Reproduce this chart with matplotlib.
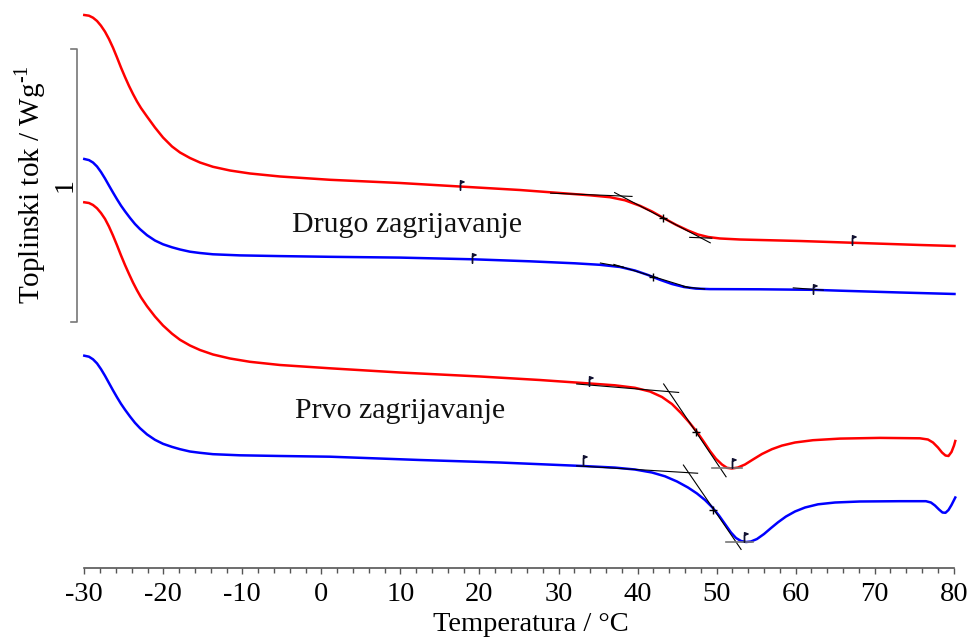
import numpy as np
import matplotlib.pyplot as plt
from matplotlib.path import Path

plt.rcParams['font.family'] = ['Liberation Serif', 'DejaVu Serif']
plt.rcParams['mathtext.fontset'] = 'custom'
plt.rcParams['mathtext.rm'] = 'Liberation Serif'
plt.rcParams['axes.unicode_minus'] = False

# Drugo zagrijavanje - crvena krivulja (W/g, pomaknuto)
t_drugo_c = [-30, -29.41, -28.9, -28.39, -27.89, -27.38, -26.88, -26.37, -25.86, -25.36, -24.85,
             -24.34, -23.84, -23.33, -22.83, -22.07, -21.06, -20.04, -18.9, -17.89, -16.63,
             -15.36, -13.72, -11.56, -9.04, -5.24, 1.09, 9.94, 17.53, 25.12, 30.19, 33.98,
             36.51, 38.41, 40.31, 41.83, 43.35, 44.87, 46.39, 47.65, 48.92, 50.44, 52.96,
             60.55, 68.14, 75.73, 80.1]
q_drugo_c = [2.0245, 2.022, 2.0147, 2.0026, 1.9853, 1.9634, 1.9366, 1.9048, 1.8689, 1.8322, 1.7974,
             1.7645, 1.7352, 1.7077, 1.6839, 1.6527, 1.6125, 1.5758, 1.5429, 1.5209, 1.5007,
             1.4842, 1.4685, 1.4549, 1.444, 1.433, 1.4209, 1.4092, 1.3963, 1.3835, 1.3725, 1.3641,
             1.3571, 1.3458, 1.3256, 1.3048, 1.2799, 1.256, 1.2352, 1.2205, 1.2114, 1.2059, 1.2022,
             1.1967, 1.1894, 1.1821, 1.1784]

# Drugo zagrijavanje - plava krivulja
t_drugo_p = [-30, -29.41, -28.9, -28.39, -27.89, -27.38, -26.88, -26.37, -25.86, -25.36, -24.85,
             -24.21, -23.59, -22.95, -22.07, -21.06, -20.04, -18.9, -17.89, -16.63, -15.36,
             -13.72, -10.3, -5.24, 1.09, 9.94, 19.18, 26.39, 32.08, 35.25, 37.78, 39.67, 41.32,
             42.84, 44.35, 45.87, 47.39, 49.16, 55.49, 62.19, 65.61, 73.2, 80.1]
q_drugo_p = [1.4971, 1.493, 1.4842, 1.4696, 1.4495, 1.4256, 1.4, 1.3744, 1.3495, 1.3264, 1.3055,
             1.281, 1.259, 1.24, 1.218, 1.1985, 1.1846, 1.1736, 1.1656, 1.1575, 1.1527, 1.148,
             1.144, 1.1414, 1.1388, 1.1359, 1.1297, 1.1223, 1.115, 1.1095, 1.1015, 1.0886, 1.0722,
             1.0546, 1.0392, 1.0282, 1.0223, 1.0205, 1.0198, 1.0179, 1.0147, 1.0081, 1.0026]

# Prvo zagrijavanje - crvena krivulja
t_prvo_c = [-30, -29.41, -28.9, -28.39, -27.89, -27.38, -26.88, -26.37, -25.86, -25.36, -24.85,
            -24.34, -23.84, -23.33, -22.83, -22.07, -21.06, -20.04, -18.9, -17.89, -16.63,
            -15.36, -13.72, -11.56, -9.04, -5.24, 1.09, 9.94, 20.06, 27.65, 33.6, 37.14, 39.67,
            41.57, 43.09, 44.35, 45.49, 46.5, 47.52, 48.4, 49.16, 49.92, 50.68, 51.31, 51.94,
            52.7, 53.59, 54.6, 55.74, 57.0, 58.27, 59.92, 62.19, 65.61, 70.67, 75.73, 76.74,
            77.38, 78.01, 78.52, 78.96, 79.34, 79.72, 80.04, 80.2]
q_prvo_c = [1.3385, 1.3359, 1.3286, 1.3165, 1.2993, 1.2777, 1.2498, 1.2168, 1.181, 1.1443, 1.1088,
            1.0758, 1.0447, 1.0161, 0.9905, 0.9579, 0.9201, 0.8872, 0.8571, 0.8348, 0.8139,
            0.7974, 0.781, 0.7663, 0.7542, 0.7425, 0.7304, 0.715, 0.7004, 0.6875, 0.6755, 0.6681,
            0.659, 0.6454, 0.6253, 0.5996, 0.5667, 0.5337, 0.4971, 0.4604, 0.4275, 0.3989, 0.378,
            0.3659, 0.3634, 0.367, 0.378, 0.3963, 0.4165, 0.4341, 0.4473, 0.4586, 0.467, 0.4729,
            0.4755, 0.474, 0.4696, 0.4586, 0.4403, 0.422, 0.411, 0.4092, 0.4238, 0.4476, 0.4641]

# Prvo zagrijavanje - plava krivulja
t_prvo_p = [-30, -29.41, -28.9, -28.39, -27.89, -27.38, -26.88, -26.37, -25.86, -25.36, -24.85,
            -24.21, -23.59, -22.95, -22.07, -21.06, -20.04, -18.9, -17.89, -16.63, -15.36,
            -13.72, -10.3, -5.24, 1.09, 12.47, 22.6, 33.09, 37.14, 39.67, 41.82, 43.47, 44.99,
            46.38, 47.52, 48.53, 49.42, 50.3, 51.06, 51.82, 52.46, 53.09, 53.72, 54.35, 55.11,
            56.0, 56.89, 57.77, 58.78, 59.92, 61.19, 62.83, 64.98, 68.14, 73.2, 76.49, 77.12,
            77.63, 78.14, 78.58, 78.96, 79.34, 79.72, 80.04, 80.2]
q_prvo_p = [0.7766, 0.7729, 0.7634, 0.7484, 0.7275, 0.7029, 0.6766, 0.6498, 0.6242, 0.6004, 0.5788,
            0.5535, 0.5308, 0.511, 0.4883, 0.4685, 0.4538, 0.4425, 0.4341, 0.4256, 0.4209,
            0.4158, 0.4117, 0.4092, 0.4066, 0.3945, 0.3853, 0.3725, 0.3667, 0.3597, 0.3487,
            0.3348, 0.3158, 0.2938, 0.2718, 0.248, 0.2223, 0.1912, 0.1601, 0.1289, 0.1088,
            0.0978, 0.0941, 0.096, 0.1051, 0.1234, 0.1454, 0.1663, 0.1875, 0.2059, 0.2205,
            0.2322, 0.2388, 0.2425, 0.2436, 0.2436, 0.2388, 0.2278, 0.2132, 0.2022, 0.2011,
            0.2114, 0.2297, 0.248, 0.2571]

# tangente (T1, q1, T2, q2)
tangente = [
    (29.0, 1.372, 39.3, 1.360), (37.1, 1.374, 49.2, 1.190), (46.6, 1.210, 49.4, 1.207),
    (35.3, 1.116, 38.2, 1.101), (37.0, 1.111, 46.6, 1.025), (45.8, 1.029, 48.5, 1.021),
    (59.7, 1.025, 63.5, 1.017),
    (32.3, 0.673, 45.2, 0.642), (43.3, 0.673, 51.2, 0.333),
    (32.3, 0.373, 47.6, 0.346), (45.8, 0.376, 53.1, 0.067),
]
tangente_min = [(49.4, 0.364, 53.2, 0.364), (51.2, 0.095, 54.6, 0.095)]
# sredina prijelaza (+)
sredina_t = [43.25, 42.0, 47.4, 49.5]
sredina_q = [1.280, 1.064, 0.498, 0.211]
# zastavice (pocetak / kraj)
zast_t = [17.5, 67.1, 19.1, 62.2, 33.9, 51.9, 33.1, 53.5]
zast_q = [1.403, 1.200, 1.134, 1.021, 0.685, 0.382, 0.395, 0.114]

fig = plt.figure(figsize=(9.75, 6.37), dpi=100)
ax = fig.add_axes([84.3 / 975, (637 - 567.7) / 637, (953.7 - 84.3) / 975, 562.7 / 637])

ax.plot(t_drugo_c, q_drugo_c, color='#ff0000', lw=1.8, clip_on=False)
ax.plot(t_drugo_p, q_drugo_p, color='#0000ff', lw=1.8, clip_on=False)
ax.plot(t_prvo_c, q_prvo_c, color='#ff0000', lw=1.8, clip_on=False)
ax.plot(t_prvo_p, q_prvo_p, color='#0000ff', lw=1.8, clip_on=False)

for t1, q1, t2, q2 in tangente:
    ax.plot([t1, t2], [q1, q2], color='black', lw=0.8)
for t1, q1, t2, q2 in tangente_min:
    ax.plot([t1, t2], [q1, q2], color='#777777', lw=1.2)
ax.plot(sredina_t, sredina_q, ls='none', marker='+', ms=6, mew=1.0, color='black')

flag = Path([(0, -1), (0, 1), (0.75, 0.72), (0, 0.45), (0, 1)],
            [Path.MOVETO, Path.LINETO, Path.LINETO, Path.LINETO, Path.CLOSEPOLY])
ax.plot(zast_t, zast_q, ls='none', marker=flag, ms=7, mew=1.0, color='#101030')

# mjerilo 1 W/g
ax.plot([-31.7, -30.9, -30.9, -31.7], [0.90, 0.90, 1.90, 1.90], color='#777777', lw=1.2,
        clip_on=False)
ax.text(-32.4, 1.40, '1', rotation=90, ha='center', va='center', fontsize=20)

ax.text(10.8, 1.231, 'Drugo zagrijavanje', ha='center', va='baseline', fontsize=21.5, color='#111111')
ax.text(10.0, 0.547, 'Prvo zagrijavanje', ha='center', va='baseline', fontsize=21.5, color='#111111')

ax.set_xlim(-30, 80)
ax.set_ylim(0, 562.7 / 273)
ax.set_xticks(np.arange(-30, 81, 10))
ax.set_xticks(np.arange(-30, 81, 2), minor=True)
ax.set_yticks([])
for s in ['left', 'right', 'top']:
    ax.spines[s].set_visible(False)
ax.spines['bottom'].set_color('#555555')
ax.spines['bottom'].set_linewidth(1.2)
ax.tick_params(axis='x', which='major', length=4.5, width=1, color='#555555', labelsize=20.5, pad=6)
ax.tick_params(axis='x', which='minor', length=3.5, width=1, color='#555555')

fig.text(531 / 975, (637 - 630.6) / 637, 'Temperatura / °C', ha='center', va='baseline', fontsize=20.5)
fig.text(30 / 975, (637 - 184.5) / 637, 'Toplinski tok / Wg$^{\\text{-1}}$', rotation=90,
         ha='center', va='center', fontsize=21)

fig.savefig('out.png', dpi=100)
